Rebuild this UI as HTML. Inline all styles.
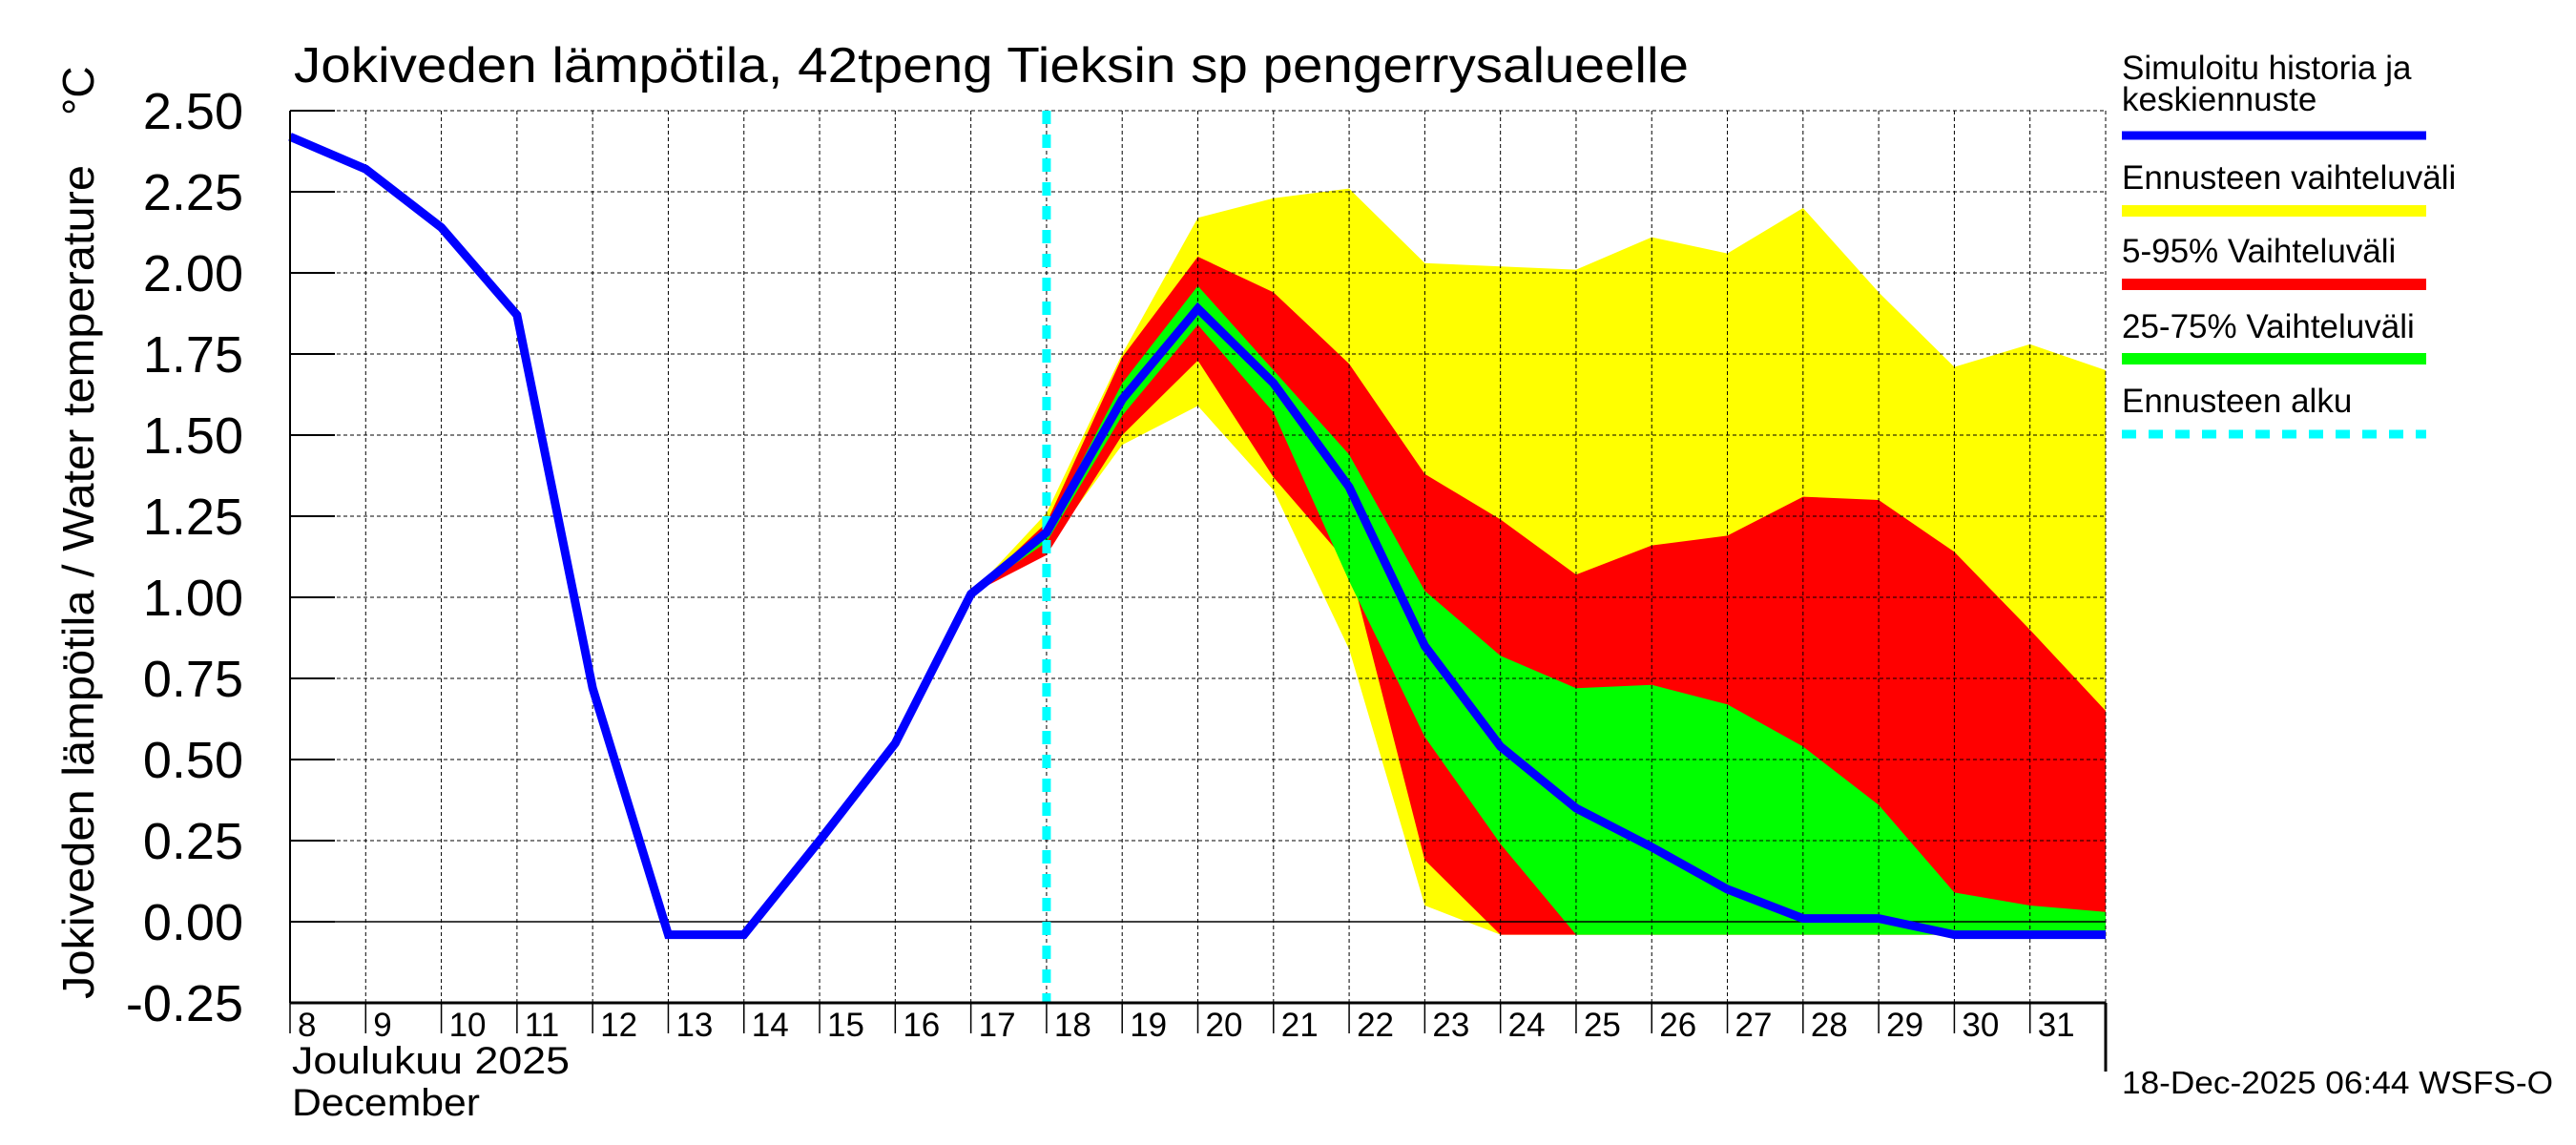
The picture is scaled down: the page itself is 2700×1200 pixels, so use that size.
<!DOCTYPE html>
<html><head><meta charset="utf-8"><style>
html,body{margin:0;padding:0;background:#fff;overflow:hidden;}
svg{display:block;font-family:"Liberation Sans",Arial,sans-serif;}
</style></head><body>
<svg id="chart" width="2700" height="1200" viewBox="0 0 2700 1200" xmlns="http://www.w3.org/2000/svg">
<rect width="2700" height="1200" fill="#fff"/>
<g id="bands"></g>
<g id="grid"></g>
<g id="lines"></g>
<g id="axes"></g>
<text x="308" y="86" font-size="52" textLength="1462" lengthAdjust="spacingAndGlyphs">Jokiveden lämpötila, 42tpeng Tieksin sp pengerrysalueelle</text>
<text transform="translate(98,1047) rotate(-90)" font-size="46" textLength="874" lengthAdjust="spacingAndGlyphs">Jokiveden lämpötila / Water temperature</text>
<text transform="translate(98,121) rotate(-90)" font-size="46">°C</text>
<text x="306" y="1125" font-size="40" textLength="291" lengthAdjust="spacingAndGlyphs">Joulukuu  2025</text>
<text x="306" y="1169" font-size="40" textLength="197" lengthAdjust="spacingAndGlyphs">December</text>
<text x="2224" y="1146" font-size="33" textLength="452" lengthAdjust="spacingAndGlyphs">18-Dec-2025 06:44 WSFS-O</text>
<g font-size="35">
<text x="2224" y="83">Simuloitu historia ja</text>
<text x="2224" y="116">keskiennuste</text>
<line x1="2224" x2="2543" y1="142" y2="142" stroke="#0000ff" stroke-width="9"/>
<text x="2224" y="198">Ennusteen vaihteluväli</text>
<line x1="2224" x2="2543" y1="221" y2="221" stroke="#ffff00" stroke-width="12"/>
<text x="2224" y="275">5-95% Vaihteluväli</text>
<line x1="2224" x2="2543" y1="298" y2="298" stroke="#ff0000" stroke-width="12"/>
<text x="2224" y="354">25-75% Vaihteluväli</text>
<line x1="2224" x2="2543" y1="376" y2="376" stroke="#00ff00" stroke-width="12"/>
<text x="2224" y="432">Ennusteen alku</text>
<line x1="2224" x2="2543" y1="455" y2="455" stroke="#00ffff" stroke-width="9" stroke-dasharray="15,13"/>
</g>
</svg>
<script>
const histDays = [8,9,10,11,12,13,14,15,16,17,18,19,20,21,22,23,24,25,26,27,28,29,30,31,32];
const median = [2.42,2.32,2.14,1.87,0.72,-0.04,-0.04,0.25,0.55,1.01,1.20,1.61,1.89,1.66,1.34,0.85,0.54,0.35,0.23,0.10,0.01,0.01,-0.04,-0.04,-0.04];
const fcDays = [17,18,19,20,21,22,23,24,25,26,27,28,29,30,31,32];
const yellowHi = [1.01,1.26,1.75,2.17,2.23,2.26,2.03,2.02,2.01,2.11,2.06,2.20,1.94,1.71,1.78,1.70];
const yellowLo = [1.01,1.15,1.47,1.59,1.33,0.84,0.05,-0.04,-0.04,-0.04,-0.04,-0.04,-0.04,-0.04,-0.04,-0.04];
const redHi = [1.01,1.23,1.74,2.05,1.94,1.72,1.38,1.24,1.07,1.16,1.19,1.31,1.30,1.14,0.90,0.65];
const redLo = [1.01,1.13,1.50,1.73,1.37,1.10,0.19,-0.04,-0.04,-0.04,-0.04,-0.04,-0.04,-0.04,-0.04,-0.04];
const greenHi = [1.01,1.21,1.66,1.96,1.70,1.44,1.02,0.82,0.72,0.73,0.67,0.54,0.36,0.09,0.05,0.03];
const greenLo = [1.01,1.17,1.56,1.84,1.57,1.05,0.57,0.24,-0.04,-0.04,-0.04,-0.04,-0.04,-0.04,-0.04,-0.04];
const yTicks = [-0.25,0,0.25,0.5,0.75,1,1.25,1.5,1.75,2,2.25,2.5];
const xTickDays = [8,9,10,11,12,13,14,15,16,17,18,19,20,21,22,23,24,25,26,27,28,29,30,31];
const xTickLabels = ["8","9","10","11","12","13","14","15","16","17","18","19","20","21","22","23","24","25","26","27","28","29","30","31"];
const forecastStart = 18.0;

const L=304,R=2207,T=116,B=1051,X0=8,X1=32,Y0=-0.25,Y1=2.5;
const NS="http://www.w3.org/2000/svg";
const xs=d=>L+(d-X0)/(X1-X0)*(R-L);
const ys=v=>B-(v-Y0)/(Y1-Y0)*(B-T);
function mk(tag,attrs,parent){const e=document.createElementNS(NS,tag);for(const k in attrs)e.setAttribute(k,attrs[k]);parent.appendChild(e);return e;}
const bands=document.getElementById('bands'),grid=document.getElementById('grid'),lines=document.getElementById('lines'),axes=document.getElementById('axes');
function band(hi,lo,color,name){
  let pts=fcDays.map((d,i)=>xs(d)+','+ys(hi[i]));
  pts=pts.concat(fcDays.map((d,i)=>xs(d)+','+ys(lo[i])).reverse());
  const p=mk('polygon',{points:pts.join(' '),fill:color},bands);
  
  
}
band(yellowHi,yellowLo,'#ffff00','band-forecast-range');
band(redHi,redLo,'#ff0000','band-5-95');
band(greenHi,greenLo,'#00ff00','band-25-75');
yTicks.forEach(v=>{
  const g=mk('line',{x1:L,x2:R,y1:ys(v),y2:ys(v),stroke:'#000','stroke-width':v===0?1.5:1,'stroke-dasharray':v===0?'none':'4,3'},grid);
  
  
  const t=mk('line',{x1:L,x2:L+47,y1:ys(v),y2:ys(v),stroke:'#000','stroke-width':2},axes);
  
  
  const lb=mk('text',{x:255,y:ys(v)+19,'font-size':54,'text-anchor':'end'},axes);
  lb.textContent=v.toFixed(2);
  
  
});
xTickDays.forEach((d,i)=>{
  const g=mk('line',{x1:xs(d),x2:xs(d),y1:T,y2:B,stroke:'#000','stroke-width':1,'stroke-dasharray':'4,3'},grid);
  
  
  const t=mk('line',{x1:xs(d),x2:xs(d),y1:B,y2:B+32,stroke:'#000','stroke-width':1.5},axes);
  
  
  const lb=mk('text',{x:xs(d)+8,y:1086,'font-size':35},axes);
  lb.textContent=xTickLabels[i];
  
  
});
const gr=mk('line',{x1:R,x2:R,y1:T,y2:B,stroke:'#000','stroke-width':1,'stroke-dasharray':'4,3'},grid);


const gt=mk('line',{x1:L,x2:R,y1:T,y2:T,stroke:'#000','stroke-width':1,'stroke-dasharray':'4,3'},grid);


const fs=mk('line',{x1:xs(forecastStart),x2:xs(forecastStart),y1:T,y2:B,stroke:'#00ffff','stroke-width':9,'stroke-dasharray':'14,11'},lines);


const ml=mk('polyline',{points:histDays.map((d,i)=>xs(d)+','+ys(median[i])).join(' '),fill:'none',stroke:'#0000ff','stroke-width':9,'stroke-linejoin':'miter'},lines);


const ax=mk('line',{x1:L,x2:R,y1:B,y2:B,stroke:'#000','stroke-width':3},axes);


const ay=mk('line',{x1:L,x2:L,y1:T,y2:B,stroke:'#000','stroke-width':2},axes);


const ar=mk('line',{x1:R,x2:R,y1:B,y2:1123,stroke:'#000','stroke-width':3},axes);


</script>
</body></html>
